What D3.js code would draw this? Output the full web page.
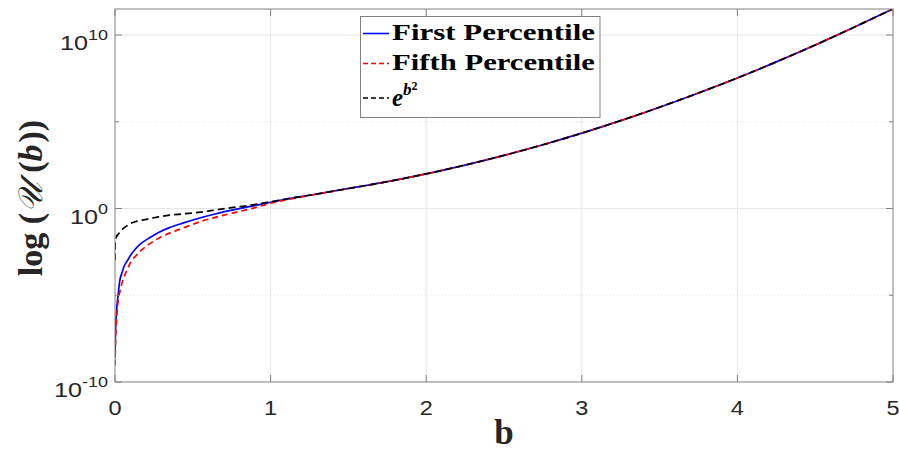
<!DOCTYPE html>
<html>
<head>
<meta charset="utf-8">
<script src="https://cdn.jsdelivr.net/npm/d3@7"></script>
<style>
  html, body { margin: 0; padding: 0; background: #fff; }
  svg { display: block; }
</style>
</head>
<body>
<div id="chart"></div>
<script>
// values
const bValues = [0, 0.002, 0.005, 0.01, 0.02, 0.03, 0.045, 0.06, 0.08, 0.1, 0.13, 0.17, 0.22, 0.28,
  0.35, 0.44, 0.55, 0.65, 0.76, 0.87, 1.0, 1.1, 1.25, 1.5, 1.75, 2, 2.25, 2.5, 2.75, 3, 3.25, 3.5,
  3.75, 4, 4.25, 4.5, 4.75, 5];

const firstPercentile = [2.51e-9, 2.51e-8, 2.0e-7, 1.26e-6, 1e-5, 6.31e-5, 2.0e-4, 5.0e-4, 1.0e-3,
  2.0e-3, 4.5e-3, 1.0e-2, 2.0e-2, 4.17e-2, 7.94e-2, 1.48e-1, 2.95e-1, 5.01e-1, 8.32e-1, 1.32, 2.29,
  3.47, 5.82, 14.2, 35.2, 99.5, 318, 1153, 4730, 2.20e4, 1.16e5, 6.93e5, 4.56e6, 3.36e7, 2.83e8, 2.65e9,
  2.82e10, 3.23e11];

const fifthPercentile = [8.91e-10, 6.31e-9, 5.01e-8, 3.98e-7, 4.47e-6, 1.41e-5, 5.01e-5, 1.26e-4, 3.16e-4,
  7.94e-4, 1.70e-3, 3.98e-3, 8.91e-3, 1.91e-2, 3.80e-2, 7.59e-2, 1.78e-1, 3.16e-1, 5.62e-1, 9.55e-1, 2.0,
  3.16, 5.6, 14.0, 35.0, 99.0, 318, 1153, 4730, 2.20e4, 1.16e5, 6.93e5, 4.56e6, 3.36e7, 2.83e8, 2.65e9,
  2.82e10, 3.23e11];

const expBSquared = [1e-3, 1.12e-2, 1.78e-2, 2.40e-2, 3.31e-2, 4.17e-2, 6.03e-2, 7.94e-2, 1.05e-1, 1.35e-1,
  1.74e-1, 2.09e-1, 2.57e-1, 3.31e-1, 4.17e-1, 4.90e-1, 6.17e-1, 8.32e-1, 1.15, 1.55, 2.45, 3.55, 5.82,
  14.2, 35.2, 99.5, 318, 1153, 4730, 2.20e4, 1.16e5, 6.93e5, 4.56e6, 3.36e7, 2.83e8, 2.65e9, 2.82e10,
  3.23e11];

const xTicks = [0, 1, 2, 3, 4, 5];
const yTicks = [1e-10, 1, 1e10];
const yTickExponents = ['-10', '0', '10'];
const yMinorTicks = [1e-5, 1e5];
const seriesNames = ['First Percentile', 'Fifth Percentile', 'e^b2'];

const width = 899;
const height = 453;
const margin = { top: 9, right: 6, bottom: 71, left: 115 };
const innerW = width - margin.left - margin.right;
const innerH = height - margin.top - margin.bottom;
const axisColor = '#808080';
const textColor = '#262626';

const svg = d3.select('#chart').append('svg')
  .attr('width', width)
  .attr('height', height);

const x = d3.scaleLinear().domain([0, 5]).range([margin.left, margin.left + innerW]);
const y = d3.scaleLog().domain([1e-10, 3.16e11]).range([margin.top + innerH, margin.top]);

const x0 = margin.left;
const x1 = margin.left + innerW;
const y0 = margin.top + innerH;
const y1 = margin.top;

// grid
const grid = svg.append('g');
grid.selectAll('.gx')
  .data(xTicks.slice(1, -1))
  .join('line')
    .attr('x1', d => x(d)).attr('x2', d => x(d))
    .attr('y1', y0).attr('y2', y1)
    .attr('stroke', '#e6e6e6');
grid.selectAll('.gy')
  .data(yTicks.slice(1))
  .join('line')
    .attr('x1', x0).attr('x2', x1)
    .attr('y1', d => y(d)).attr('y2', d => y(d))
    .attr('stroke', '#e6e6e6');
grid.selectAll('.gm')
  .data(yMinorTicks)
  .join('line')
    .attr('x1', x0).attr('x2', x1)
    .attr('y1', d => y(d)).attr('y2', d => y(d))
    .attr('stroke', '#e3e3e3')
    .attr('stroke-dasharray', '1,2');

// curves
svg.append('clipPath').attr('id', 'clip')
  .append('rect')
    .attr('x', x0).attr('y', y1)
    .attr('width', innerW).attr('height', innerH);

const line = vals => d3.line()
  .x((d, i) => x(bValues[i]))
  .y(d => y(d))
  .curve(d3.curveMonotoneX)(vals);

const series = [
  { values: firstPercentile, color: '#0000ff', dash: null },
  { values: fifthPercentile, color: '#ff0000', dash: '6,4' },
  { values: expBSquared, color: '#000000', dash: '7,4' },
];

const plot = svg.append('g').attr('clip-path', 'url(#clip)');
plot.selectAll('path')
  .data(series)
  .join('path')
    .attr('d', d => line(d.values))
    .attr('fill', 'none')
    .attr('stroke', d => d.color)
    .attr('stroke-width', 1.7)
    .attr('stroke-dasharray', d => d.dash);

// box and ticks
svg.append('rect')
  .attr('x', x0).attr('y', y1)
  .attr('width', innerW).attr('height', innerH)
  .attr('fill', 'none')
  .attr('stroke', axisColor);

const ticks = svg.append('g').attr('stroke', axisColor);
xTicks.forEach(t => {
  ticks.append('line').attr('x1', x(t)).attr('x2', x(t)).attr('y1', y0).attr('y2', y0 - 7);
  ticks.append('line').attr('x1', x(t)).attr('x2', x(t)).attr('y1', y1).attr('y2', y1 + 7);
});
yTicks.forEach(t => {
  ticks.append('line').attr('x1', x0).attr('x2', x0 + 7).attr('y1', y(t)).attr('y2', y(t));
  ticks.append('line').attr('x1', x1).attr('x2', x1 - 7).attr('y1', y(t)).attr('y2', y(t));
});
yMinorTicks.forEach(t => {
  ticks.append('line').attr('x1', x0).attr('x2', x0 + 4).attr('y1', y(t)).attr('y2', y(t));
  ticks.append('line').attr('x1', x1).attr('x2', x1 - 4).attr('y1', y(t)).attr('y2', y(t));
});

// tick labels
const labelFont = 'Liberation Sans, Arial, sans-serif';
svg.append('g')
  .selectAll('g')
  .data(xTicks)
  .join('g')
    .attr('transform', d => `translate(${x(d)},${y0 + 33}) scale(1.12,1)`)
  .append('text')
    .attr('text-anchor', 'middle')
    .attr('font-family', labelFont)
    .attr('font-size', 21)
    .attr('fill', textColor)
    .text(d => d);

const yLab = svg.append('g')
  .selectAll('g')
  .data(yTicks)
  .join('g')
    .attr('transform', d => `translate(${x0 - 7},${y(d) + 15}) scale(1.2,1)`)
  .append('text')
    .attr('text-anchor', 'end')
    .attr('font-family', labelFont)
    .attr('font-size', 21)
    .attr('fill', textColor);
yLab.append('tspan').text('10');
yLab.append('tspan')
  .attr('font-size', 15)
  .attr('dy', -10)
  .text((d, i) => yTickExponents[i]);

// axis titles
svg.append('text')
  .attr('x', x(2.5))
  .attr('y', 444)
  .attr('text-anchor', 'middle')
  .attr('font-family', 'Liberation Serif, DejaVu Serif, serif')
  .attr('font-weight', 'bold')
  .attr('font-size', 35)
  .attr('fill', textColor)
  .text('b');

const yTitle = svg.append('text')
  .attr('transform', 'translate(42,198) rotate(-90)')
  .attr('text-anchor', 'middle')
  .attr('font-family', 'Liberation Serif, DejaVu Serif, serif')
  .attr('font-weight', 'bold')
  .attr('font-size', 34)
  .attr('fill', textColor);
yTitle.append('tspan').text('log (');
yTitle.append('tspan').attr('font-weight', 'normal').attr('font-style', 'italic').text('𝒰');
yTitle.append('tspan').attr('dx', 9).text('(');
yTitle.append('tspan').attr('font-style', 'italic').text('b');
yTitle.append('tspan').attr('dx', 2).text('))');

// legend
const legend = svg.append('g');
legend.append('rect')
  .attr('x', 360.5).attr('y', 16.5)
  .attr('width', 239.5).attr('height', 101)
  .attr('fill', '#fff')
  .attr('stroke', axisColor);

const rowY = [33.5, 63.5, 98];
series.forEach((s, i) => {
  legend.append('line')
    .attr('x1', 363).attr('x2', 389)
    .attr('y1', rowY[i]).attr('y2', rowY[i])
    .attr('stroke', s.color)
    .attr('stroke-width', 1.6)
    .attr('stroke-dasharray', s.dash ? '5,3' : null);
});

const legendFont = 'Liberation Serif, DejaVu Serif, serif';
seriesNames.slice(0, 2).forEach((name, i) => {
  legend.append('text')
    .attr('x', 392)
    .attr('y', rowY[i] + 6.5)
    .attr('font-family', legendFont)
    .attr('font-weight', 'bold')
    .attr('font-size', 23)
    .attr('textLength', 203)
    .attr('lengthAdjust', 'spacingAndGlyphs')
    .attr('fill', '#000')
    .text(name);
});
const expLabel = legend.append('text')
  .attr('x', 392)
  .attr('y', rowY[2] + 8)
  .attr('font-family', legendFont)
  .attr('font-weight', 'bold')
  .attr('font-style', 'italic')
  .attr('font-size', 25)
  .attr('fill', '#000');
expLabel.append('tspan').text('e');
expLabel.append('tspan').attr('font-size', 17).attr('dy', -11).text('b');
expLabel.append('tspan').attr('font-size', 12).attr('font-style', 'normal').attr('dy', -5).text('2');
</script>
</body>
</html>
